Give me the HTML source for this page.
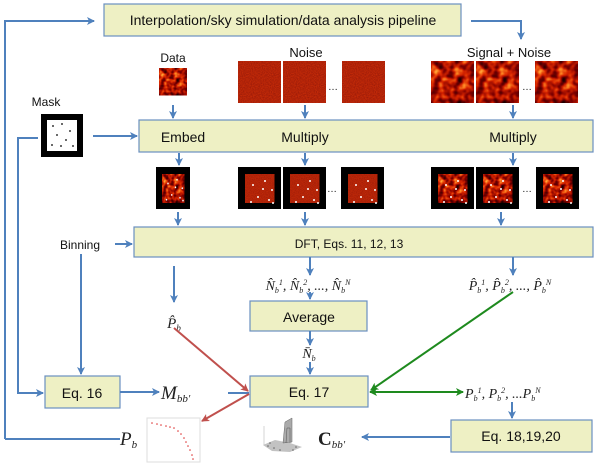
<!DOCTYPE html>
<html><head><meta charset="utf-8"><style>
html,body{margin:0;padding:0;background:#fff;width:600px;height:466px;overflow:hidden}
svg{display:block}
.bx{fill:#eef0c4;stroke:#6a8fc0;stroke-width:1.2}
.t{font-family:"Liberation Sans",sans-serif;fill:#111}
.m{font-family:"Liberation Serif",serif;font-style:italic;fill:#222}
.ln{stroke:#4f81bd;stroke-width:2;fill:none}
</style></head><body>
<svg width="600" height="466" viewBox="0 0 600 466" xmlns="http://www.w3.org/2000/svg">
<defs>
<marker id="ab" markerWidth="8" markerHeight="8" refX="7" refY="4" orient="auto" markerUnits="userSpaceOnUse"><path d="M0,0 L8,4 L0,8 L2,4z" fill="#4f81bd"/></marker>
<marker id="ar" markerWidth="8" markerHeight="8" refX="7" refY="4" orient="auto" markerUnits="userSpaceOnUse"><path d="M0,0 L8,4 L0,8 L2,4z" fill="#c0504d"/></marker>
<marker id="ag" markerWidth="8" markerHeight="8" refX="7" refY="4" orient="auto-start-reverse" markerUnits="userSpaceOnUse"><path d="M0,0 L8,4 L0,8 L2,4z" fill="#1e8a1e"/></marker>
<filter id="sn" x="0" y="0" width="100%" height="100%" color-interpolation-filters="sRGB">
<feTurbulence type="fractalNoise" baseFrequency="0.13" numOctaves="2" seed="3"/>
<feColorMatrix type="matrix" values="1 0 0 0 0 1 0 0 0 0 1 0 0 0 0 0 0 0 0 1"/>
<feComponentTransfer><feFuncR type="table" tableValues="0.05 0.15 0.5 0.85 1 1"/><feFuncG type="table" tableValues="0 0 0 0.15 0.55 0.9"/><feFuncB type="table" tableValues="0 0 0 0 0.15 0.5"/></feComponentTransfer>
</filter>
<filter id="nz" x="0" y="0" width="100%" height="100%" color-interpolation-filters="sRGB">
<feTurbulence type="fractalNoise" baseFrequency="0.9" numOctaves="1" seed="5"/>
<feColorMatrix type="matrix" values="0.3 0 0 0 0.55 0.12 0 0 0 0.08 0 0 0 0 0.03 0 0 0 0 1"/>
</filter>
<g id="sni"><rect width="43" height="42" fill="#a02" filter="url(#sn)"/></g>
<g id="nzi"><rect width="43" height="42" fill="#b3300c" filter="url(#nz)"/></g>
<g id="dots" fill="#fff"><circle cx="8" cy="10" r="1"/><circle cx="20" cy="6" r="1"/><circle cx="27" cy="15" r="1"/><circle cx="13" cy="22" r="1"/><circle cx="24" cy="25" r="1"/><circle cx="6" cy="27" r="1"/><circle cx="18" cy="14" r="1"/><circle cx="28" cy="28" r="1"/></g>
</defs>

<rect class="bx" x="104" y="4" width="357" height="32"/>
<text class="t" x="283" y="25" font-size="14" text-anchor="middle">Interpolation/sky simulation/data analysis pipeline</text>
<path class="ln" d="M5,439 L5,21 L94,21" marker-end="url(#ab)"/>
<path class="ln" d="M471,21 L521,21 L521,39" marker-end="url(#ab)"/>
<line class="ln" x1="5" y1="439" x2="120" y2="439"/>

<text class="t" x="173" y="62" font-size="12" text-anchor="middle">Data</text>
<text class="t" x="306" y="57" font-size="13" text-anchor="middle">Noise</text>
<text class="t" x="509" y="57" font-size="13" text-anchor="middle">Signal + Noise</text>
<text class="t" x="46" y="106" font-size="12" text-anchor="middle">Mask</text>

<g transform="translate(159,68) scale(0.65)"><use href="#sni"/></g>
<use href="#nzi" x="238" y="61"/><use href="#nzi" x="283" y="61"/><use href="#nzi" x="342" y="61"/>
<text class="t" x="333" y="90" font-size="10" text-anchor="middle">…</text>
<use href="#sni" x="431" y="61"/><use href="#sni" x="476" y="61"/><use href="#sni" x="535" y="61"/>
<text class="t" x="527" y="90" font-size="10" text-anchor="middle">…</text>

<rect x="41" y="114" width="42" height="43" fill="#000"/>
<rect x="47" y="120" width="30" height="31" fill="#fff"/>
<g fill="#000"><circle cx="53" cy="126" r="0.9"/><circle cx="62" cy="124" r="0.9"/><circle cx="70" cy="131" r="0.9"/><circle cx="57" cy="135" r="0.9"/><circle cx="66" cy="140" r="0.9"/><circle cx="52" cy="145" r="0.9"/><circle cx="73" cy="146" r="0.9"/><circle cx="61" cy="146" r="0.9"/></g>

<line class="ln" x1="173" y1="105" x2="173" y2="118" marker-end="url(#ab)"/>
<line class="ln" x1="305" y1="105" x2="305" y2="118" marker-end="url(#ab)"/>
<line class="ln" x1="513" y1="105" x2="513" y2="118" marker-end="url(#ab)"/>

<rect class="bx" x="139" y="120" width="454" height="32"/>
<text class="t" x="183" y="142" font-size="14" text-anchor="middle">Embed</text>
<text class="t" x="305" y="142" font-size="14" text-anchor="middle">Multiply</text>
<text class="t" x="513" y="142" font-size="14" text-anchor="middle">Multiply</text>
<line class="ln" x1="93" y1="136" x2="137" y2="136" marker-end="url(#ab)"/>
<path class="ln" d="M38,138 L18,138 L18,393 L43,393" marker-end="url(#ab)"/>

<line class="ln" x1="179" y1="153" x2="179" y2="165" marker-end="url(#ab)"/>
<line class="ln" x1="305" y1="153" x2="305" y2="165" marker-end="url(#ab)"/>
<line class="ln" x1="513" y1="153" x2="513" y2="165" marker-end="url(#ab)"/>

<g>
<rect x="156" y="167" width="34" height="42" fill="#000"/>
<g transform="translate(162,174) scale(0.52,0.68)"><use href="#sni"/></g>
<g transform="translate(162,174) scale(0.75,0.95)"><use href="#dots"/></g>
</g>
<g>
<rect x="238" y="167" width="43" height="42" fill="#000"/><g transform="translate(245,174) scale(0.68,0.68)"><use href="#nzi"/></g><use href="#dots" x="245" y="175"/>
<rect x="283" y="167" width="43" height="42" fill="#000"/><g transform="translate(290,174) scale(0.68,0.68)"><use href="#nzi"/></g><use href="#dots" x="290" y="175"/>
<rect x="341" y="167" width="43" height="42" fill="#000"/><g transform="translate(348,174) scale(0.68,0.68)"><use href="#nzi"/></g><use href="#dots" x="348" y="175"/>
<text class="t" x="332" y="192" font-size="10" text-anchor="middle">…</text>
<rect x="431" y="167" width="43" height="42" fill="#000"/><g transform="translate(438,174) scale(0.68,0.68)"><use href="#sni"/></g><use href="#dots" x="438" y="175"/>
<rect x="476" y="167" width="43" height="42" fill="#000"/><g transform="translate(483,174) scale(0.68,0.68)"><use href="#sni"/></g><use href="#dots" x="483" y="175"/>
<rect x="536" y="167" width="43" height="42" fill="#000"/><g transform="translate(543,174) scale(0.68,0.68)"><use href="#sni"/></g><use href="#dots" x="543" y="175"/>
<text class="t" x="527" y="192" font-size="10" text-anchor="middle">…</text>
</g>

<line class="ln" x1="178" y1="212" x2="178" y2="225" marker-end="url(#ab)"/>
<line class="ln" x1="305" y1="212" x2="305" y2="225" marker-end="url(#ab)"/>
<line class="ln" x1="501" y1="212" x2="501" y2="225" marker-end="url(#ab)"/>

<rect class="bx" x="134" y="227" width="459" height="30"/>
<text class="t" x="349" y="248" font-size="12" text-anchor="middle">DFT, Eqs. 11, 12, 13</text>
<text class="t" x="80" y="249" font-size="12" text-anchor="middle">Binning</text>
<line class="ln" x1="115" y1="244" x2="132" y2="244" marker-end="url(#ab)"/>
<line class="ln" x1="81" y1="254" x2="81" y2="374" marker-end="url(#ab)"/>

<line class="ln" x1="174" y1="266" x2="174" y2="302" marker-end="url(#ab)"/>
<text class="m" x="174" y="328" font-size="15" text-anchor="middle">P̂<tspan font-size="9" dy="3">b</tspan></text>

<line class="ln" x1="310" y1="257" x2="310" y2="275" marker-end="url(#ab)"/>
<text class="m" x="308" y="290" font-size="14" text-anchor="middle">N̂<tspan font-size="8" dy="3">b</tspan><tspan font-size="8" dy="-8">1</tspan><tspan dy="5">, N̂</tspan><tspan font-size="8" dy="3">b</tspan><tspan font-size="8" dy="-8">2</tspan><tspan dy="5">, ..., N̂</tspan><tspan font-size="8" dy="3">b</tspan><tspan font-size="8" dy="-8">N</tspan></text>
<line class="ln" x1="310" y1="292" x2="310" y2="299" marker-end="url(#ab)"/>
<rect class="bx" x="250" y="301" width="117" height="30"/>
<text class="t" x="309" y="322" font-size="14" text-anchor="middle">Average</text>
<line class="ln" x1="310" y1="331" x2="310" y2="345" marker-end="url(#ab)"/>
<text class="m" x="309" y="358" font-size="14" text-anchor="middle">N̄<tspan font-size="8" dy="3">b</tspan></text>
<line class="ln" x1="310" y1="362" x2="310" y2="374" marker-end="url(#ab)"/>

<line class="ln" x1="513" y1="257" x2="513" y2="275" marker-end="url(#ab)"/>
<text class="m" x="510" y="290" font-size="14" text-anchor="middle">P̂<tspan font-size="8" dy="3">b</tspan><tspan font-size="8" dy="-8">1</tspan><tspan dy="5">, P̂</tspan><tspan font-size="8" dy="3">b</tspan><tspan font-size="8" dy="-8">2</tspan><tspan dy="5">, ..., P̂</tspan><tspan font-size="8" dy="3">b</tspan><tspan font-size="8" dy="-8">N</tspan></text>

<rect class="bx" x="45" y="376" width="75" height="32"/>
<text class="t" x="82" y="398" font-size="14" text-anchor="middle">Eq. 16</text>
<line class="ln" x1="120" y1="392" x2="159" y2="392" marker-end="url(#ab)"/>
<text class="m" x="161" y="399" font-size="19">M<tspan font-size="11" dy="3">bb′</tspan></text>
<line class="ln" x1="228" y1="393" x2="249" y2="393"/>

<rect class="bx" x="250" y="376" width="118" height="31"/>
<text class="t" x="309" y="397" font-size="14" text-anchor="middle">Eq. 17</text>

<line x1="174" y1="328" x2="248" y2="391" stroke="#c0504d" stroke-width="2" marker-end="url(#ar)"/>
<line x1="249" y1="394" x2="202" y2="421" stroke="#c0504d" stroke-width="2" marker-end="url(#ar)"/>
<line x1="513" y1="292" x2="371" y2="390" stroke="#1e8a1e" stroke-width="2" marker-end="url(#ag)"/>
<line x1="370" y1="392" x2="463" y2="392" stroke="#1e8a1e" stroke-width="2" marker-start="url(#ag)" marker-end="url(#ag)"/>

<text class="m" x="465" y="398" font-size="14">P<tspan font-size="8" dy="3">b</tspan><tspan font-size="8" dy="-8">1</tspan><tspan dy="5">, P</tspan><tspan font-size="8" dy="3">b</tspan><tspan font-size="8" dy="-8">2</tspan><tspan dy="5">, ...P</tspan><tspan font-size="8" dy="3">b</tspan><tspan font-size="8" dy="-8">N</tspan></text>
<line class="ln" x1="512" y1="402" x2="512" y2="418" marker-end="url(#ab)"/>

<rect class="bx" x="451" y="420" width="141" height="32"/>
<text class="t" x="521" y="441" font-size="14" text-anchor="middle">Eq. 18,19,20</text>
<line class="ln" x1="450" y1="437" x2="362" y2="437" marker-end="url(#ab)"/>
<text x="318" y="445" font-size="19" font-family="Liberation Serif,serif" font-weight="bold" fill="#222">C<tspan font-size="11" font-style="italic" font-weight="normal" dy="3">bb′</tspan></text>
<g>
<path d="M263,445 L275,440 L290,443 L302,447 L290,452 L272,451 Z" fill="#999" opacity="0.6"/>
<path d="M283,443 L285,422 L292,418 L292,442 Z" fill="#aaa" stroke="#666" stroke-width="0.5"/>
<path d="M286,443 L287,428 L290,428 L290,443" fill="none" stroke="#555" stroke-width="0.5"/>
<g fill="#666"><circle cx="268" cy="446" r="0.8"/><circle cx="274" cy="448" r="0.8"/><circle cx="280" cy="450" r="0.8"/><circle cx="296" cy="447" r="0.8"/><circle cx="270" cy="443" r="0.8"/><circle cx="293" cy="450" r="0.8"/></g>
<line x1="264" y1="426" x2="264" y2="445" stroke="#bbb" stroke-width="0.6"/>
</g>

<text class="m" x="120" y="445" font-size="19">P<tspan font-size="11" dy="3">b</tspan></text>
<rect x="147" y="418" width="53" height="44" fill="#fff" stroke="#ddd" stroke-width="1"/>
<g fill="#d33"><circle cx="152" cy="423" r="0.8"/><circle cx="157" cy="424" r="0.8"/><circle cx="161" cy="425" r="0.8"/><circle cx="166" cy="426" r="0.8"/><circle cx="170" cy="427" r="0.8"/><circle cx="174" cy="428" r="0.8"/><circle cx="178" cy="431" r="0.8"/><circle cx="181" cy="434" r="0.8"/><circle cx="184" cy="438" r="0.8"/><circle cx="186" cy="442" r="0.8"/><circle cx="188" cy="446" r="0.8"/><circle cx="190" cy="450" r="0.8"/><circle cx="192" cy="455" r="0.8"/><circle cx="193" cy="459" r="0.8"/></g>
</svg>
</body></html>
